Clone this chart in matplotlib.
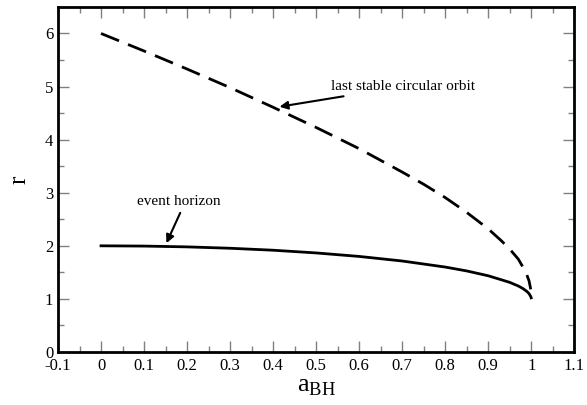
"""
Kerr black hole: event horizon and last stable circular orbit vs spin
"""

import matplotlib
matplotlib.use('Agg')
import matplotlib.pyplot as plt
from matplotlib.ticker import MultipleLocator

# Values
a_isco = [0.0, 0.1, 0.2, 0.3, 0.4, 0.5, 0.6, 0.7, 0.75, 0.8, 0.85, 0.9, 0.93, 0.95, 0.97, 0.98, 0.99, 0.995, 0.999]
r_isco = [6.0, 5.67, 5.33, 4.98, 4.61, 4.23, 3.83, 3.39, 3.16, 2.91, 2.63, 2.32, 2.10, 1.94, 1.75, 1.61, 1.45, 1.34, 1.18]

a_hor = [0.0, 0.1, 0.2, 0.3, 0.4, 0.5, 0.6, 0.7, 0.8, 0.85, 0.9, 0.95, 0.97, 0.98, 0.99, 0.995, 0.999, 1.0]
r_hor = [2.0, 1.995, 1.98, 1.954, 1.917, 1.866, 1.80, 1.714, 1.60, 1.527, 1.436, 1.312, 1.243, 1.199, 1.141, 1.10, 1.045, 1.02]

plt.rcParams['font.family'] = ['Liberation Serif', 'DejaVu Serif']
plt.rcParams['mathtext.fontset'] = 'custom'
plt.rcParams['mathtext.rm'] = 'Liberation Serif'

fig = plt.figure(figsize=(5.87, 4.05), dpi=100)
ax = fig.add_axes([0.0988, 0.1309, 0.8794, 0.852])

ax.plot(a_isco, r_isco, color='black', lw=2.0, linestyle=(0, (7, 3.5)))
ax.plot(a_hor, r_hor, color='black', lw=2.0)

ax.annotate('last stable circular orbit', xy=(0.415, 4.62), xytext=(0.535, 5.0),
            fontsize=11, va='center', ha='left',
            arrowprops=dict(arrowstyle='-|>', color='black', lw=1.5, mutation_scale=12,
                            shrinkA=2, shrinkB=0))
ax.annotate('event horizon', xy=(0.152, 2.05), xytext=(0.18, 2.72),
            fontsize=11, va='bottom', ha='center',
            arrowprops=dict(arrowstyle='-|>', color='black', lw=1.5, mutation_scale=12,
                            shrinkA=2, shrinkB=0, relpos=(0.55, 0)))

ax.set_xlim(-0.1, 1.1)
ax.set_ylim(0, 6.5)
ax.xaxis.set_major_locator(MultipleLocator(0.1))
ax.xaxis.set_minor_locator(MultipleLocator(0.05))
ax.yaxis.set_major_locator(MultipleLocator(1))
ax.yaxis.set_minor_locator(MultipleLocator(0.5))
ax.set_xticks([round(-0.1 + 0.1 * i, 1) for i in range(13)])
ax.set_xticklabels(['-0.1', '0', '0.1', '0.2', '0.3', '0.4', '0.5', '0.6', '0.7', '0.8', '0.9', '1', '1.1'])
ax.set_yticks(range(7))
ax.set_yticklabels([str(i) for i in range(7)])

ax.tick_params(which='both', direction='in', top=True, right=True, labelsize=12, color='gray')
ax.tick_params(which='major', length=8, width=1)
ax.tick_params(which='minor', length=4, width=1)
ax.tick_params(axis='x', pad=4)
for s in ax.spines.values():
    s.set_linewidth(2)

ax.set_xlabel(r'a$_{\rm BH}$', fontsize=19, labelpad=2)
ax.set_ylabel('r', fontsize=18, labelpad=10)

plt.savefig('out.png', dpi=100)
